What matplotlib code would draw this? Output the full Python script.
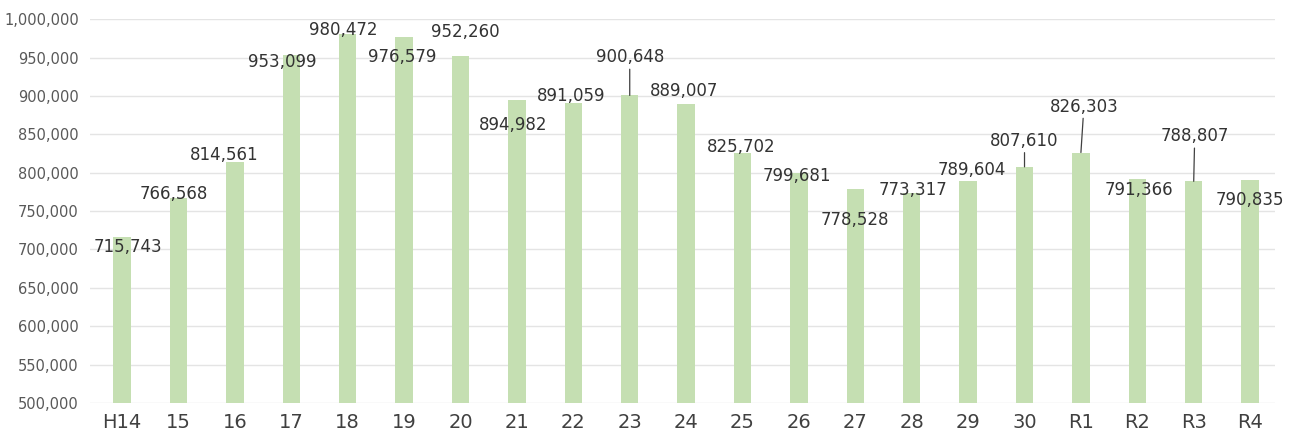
import matplotlib.pyplot as plt
from matplotlib.ticker import FuncFormatter

# fiscal years (Heisei 14 .. Reiwa 4)
years = ["H14", "15", "16", "17", "18", "19", "20", "21", "22", "23", "24",
         "25", "26", "27", "28", "29", "30", "R1", "R2", "R3", "R4"]
counts = [715743, 766568, 814561, 953099, 980472, 976579, 952260, 894982,
          891059, 900648, 889007, 825702, 799681, 778528, 773317, 789604,
          807610, 826303, 791366, 788807, 790835]

# label offsets in pixels (dx, dy) from the bar top, and which get a leader line
label_offsets = [(6, -10), (-5, 4), (-11, 7), (-9, -7), (-4, 4), (-2, -20),
                 (5, 24), (-4, -25), (-2, 7), (0, 38), (-2, 13), (-1, 6),
                 (-2, -3), (0, -31), (1, 3), (4, 11), (0, 26), (3, 46),
                 (2, -11), (1, 45), (0, -20)]
leaders = {"23", "30", "R1", "R3"}

fig = plt.figure(figsize=(12.95, 4.36), dpi=100)
ax = fig.add_axes([0.0695, 0.0757, 0.915, 0.8803])

x = range(len(years))
ax.bar(x, [c - 500000 for c in counts], bottom=500000, width=0.31,
       color="#c5dfb2", zorder=2)

ax.set_ylim(500000, 1000000)
ax.set_xlim(-0.57, 20.44)
ax.set_yticks(range(500000, 1000001, 50000))
ax.yaxis.set_major_formatter(FuncFormatter(lambda v, p: f"{int(v):,}"))
ax.set_xticks(list(x))
ax.set_xticklabels(years, fontsize=14, color="#404040")
ax.tick_params(axis="y", labelsize=10.5, labelcolor="#595959", length=0, pad=8)
ax.tick_params(axis="x", length=0, pad=7)
ax.grid(axis="y", color="#e4e4e4", linewidth=1, zorder=0)
for s in ax.spines.values():
    s.set_visible(False)

for i, (yr, c) in enumerate(zip(years, counts)):
    dx, dy = label_offsets[i]
    props = None
    if yr in leaders:
        props = dict(arrowstyle="-", color="#404040", lw=0.9,
                     shrinkA=0, shrinkB=0)
    ax.annotate(f"{c:,}", xy=(i, c), xytext=(dx, dy),
                textcoords="offset pixels", ha="center", va="center",
                fontsize=12, color="#333333", arrowprops=props, zorder=3)

fig.savefig("out.png", dpi=100)
